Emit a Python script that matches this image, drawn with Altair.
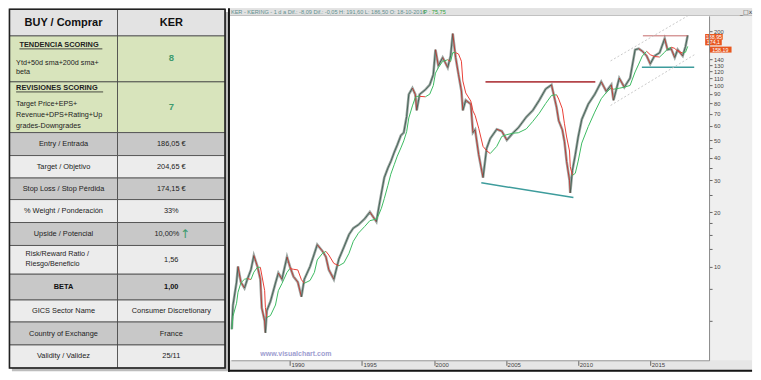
import altair as alt
import pandas as pd

# ---------------- table content ----------------
row_labels = ["BUY / Comprar", "TENDENCIA SCORING", "REVISIONES SCORING",
              "Entry / Entrada", "Target / Objetivo", "Stop Loss / Stop Pérdida",
              "% Weight / Ponderación", "Upside / Potencial",
              "Risk/Reward  Ratio /|Riesgo/Beneficio", "BETA", "GICS Sector Name",
              "Country of Exchange", "Validity / Validez"]
row_values = ["KER", "8", "7", "186,05 €", "204,65 €", "174,15 €", "33%", "10,00%",
              "1,56", "1,00", "Consumer Discretionary", "France", "25/11"]
score_notes = [["Ytd+50d sma+200d sma+", "beta"],
               ["Target Price+EPS+", "Revenue+DPS+Rating+Up", "grades-Downgrades"]]
upside_arrow = "↑"

# ---------------- price series ----------------
years = [1985.97, 1986.05, 1986.3, 1986.4, 1986.6, 1986.85, 1987.05, 1987.3, 1987.5, 1987.75,
         1987.95, 1988.05, 1988.25, 1988.3, 1988.4, 1988.65, 1989.0, 1989.2, 1989.45, 1989.8,
         1990.0, 1990.25, 1990.55, 1990.8, 1991.0, 1991.4, 1991.7, 1991.9, 1992.25, 1992.5,
         1992.7, 1993.05, 1993.4, 1993.75, 1994.1, 1994.4, 1994.75, 1995.2, 1995.55, 1996.0,
         1996.15, 1996.35, 1996.55, 1996.8, 1997.0, 1997.25, 1997.45, 1997.7, 1997.9, 1998.1,
         1998.25, 1998.5, 1998.7, 1998.8, 1999.0, 1999.4, 1999.7, 1999.95, 2000.1, 2000.3,
         2000.6, 2000.95, 2001.15, 2001.3, 2001.5, 2001.7, 2001.9, 2002.0, 2002.2, 2002.55,
         2002.7, 2002.85, 2003.1, 2003.4, 2003.65, 2003.9, 2004.35, 2004.7, 2005.05, 2005.5,
         2005.85, 2006.4, 2006.85, 2007.3, 2007.75, 2008.15, 2008.5, 2008.65, 2008.9, 2009.05,
         2009.2, 2009.4, 2009.45, 2009.6, 2009.8, 2010.0, 2010.25, 2010.7, 2011.15, 2011.6,
         2011.95, 2012.3, 2012.45, 2012.85, 2013.2, 2013.6, 2013.95, 2014.2, 2014.45, 2014.75,
         2015.0, 2015.3, 2015.65, 2016.0, 2016.2, 2016.45, 2016.7, 2016.9, 2017.25, 2017.45,
         2017.6]
prices = [4.5, 6.1, 8.2, 10.0, 8.2, 7.6, 8.5, 9.6, 11.5, 10.0,
          8.5, 5.9, 5.0, 4.3, 5.7, 6.4, 8.1, 9.2, 8.5, 11.3,
          10.0, 8.8, 8.2, 6.8, 8.5, 10.0, 11.8, 13.2, 12.2, 11.3,
          9.6, 8.5, 11.0, 12.8, 15.0, 16.3, 17.0, 18.4, 20.0, 17.7,
          20.8, 25.5, 31.0, 35.0, 38.0, 43.0, 47.0, 53.0, 55.0, 67.5,
          89.5, 97.0, 89.5, 73.0, 89.5, 95.0, 101.0, 115.0, 158.0, 129.0,
          143.0, 126.0, 146.0, 194.0, 143.0, 115.0, 93.5, 73.0, 83.0, 79.0,
          55.0, 57.0, 41.5, 31.0, 45.0, 51.0, 57.4, 56.0, 50.0, 55.0,
          58.5, 67.0, 73.0, 83.0, 96.0, 101.0, 76.0, 64.0, 57.0, 49.0,
          38.0, 30.0, 25.5, 34.0, 41.5, 52.0, 65.0, 79.0, 89.5, 105.0,
          93.0, 101.0, 83.0, 110.0, 98.0, 110.0, 158.0, 160.0, 155.0, 146.0,
          132.0, 146.0, 152.0, 182.0, 158.0, 160.0, 143.0, 158.0, 146.0, 165.0,
          190.0]

# ---------------- drawn trend lines ----------------
seg_kind = ["resistance", "support", "range_top", "range_bottom", "channel", "channel"]
seg_x1 = [2003.57, 2003.28, 2014.49, 2014.42, 2012.25, 2012.25]
seg_y1 = [105.0, 29.0, 188.5, 126.5, 137.0, 77.7]
seg_x2 = [2011.19, 2009.67, 2017.6, 2018.05, 2017.6, 2018.15]
seg_y2 = [105.0, 24.1, 188.5, 126.5, 243.0, 149.6]

tag_values = [173.5, 186.0, 158.19]
tag_labels = ["174,1", "188,95", "158,19"]

header_text = "KER - KERING - 1 d a  Dif.: -8,09  Dif.: -0,05  H: 191,60  L: 186,50  O: 18-10-2016"
header_price = "P : 75,75"
watermark = "www.visualchart.com"
window_icons = "_□x"
year_ticks = [1990, 1995, 2000, 2005, 2010, 2015]
price_ticks = [10, 20, 30, 40, 50, 60, 70, 80, 90, 100, 110, 120, 130, 140, 200]
price_minor = [5, 7.5, 12.5, 15, 17.5, 25, 35, 45]

# ---------------- layout (reference pixel units) ----------------
W, H = 745, 364
SX, SY = W / 761, H / 380
PLOT_W, PLOT_H = 717 * SX, 368 * SY
FONT = "Liberation Sans"

row_h = [28, 48, 53, 24, 23.5, 22.5, 24, 24, 30, 27, 23, 24, 24]
row_fill = ["#e3e3e3", "#d8e4bc", "#d8e4bc", "#c8c8c8", "#ececec", "#c8c8c8", "#ececec",
            "#c8c8c8", "#ececec", "#c8c8c8", "#ececec", "#c8c8c8", "#ececec"]
col_x = [1.5, 112, 222]
title_pos = [(11.7, 9), (8.3, 6)]
note_dy = [[28.7, 38], [23, 34.5, 46]]
score_dy = [22.7, 26]
underline = [(11.7, 96.5, 42.5), (8.3, 97.3, 87.5)]

frame_boxes = [
    (4, 4, 225, 379.5, "#bdbdbd"),
    (225, 0, 761, 380, "#e6e6e6"),
    (227, 8, 717, 368, "#ffffff"),
    (717, 8, 761, 368, "#efefef"),
    (227, 0, 761, 7.4, "#e2e2e2"),
    (227, 7.4, 761, 8, "#b5b5b5"),
    (225, 0, 227, 380, "#151515"),
    (225, 378, 761, 380, "#151515"),
]

TX = alt.Scale(domain=[0, 761], range=[0, W], nice=False, zero=False)
TY = alt.Scale(domain=[0, 380], range=[0, H], nice=False, zero=False)
PX = alt.Scale(domain=[1985.91, 2019.08], range=[228 * SX, 717 * SX], nice=False, zero=False)
PY = alt.Scale(type="log", domain=[3.03, 243], range=[368 * SY, 8 * SY], nice=False)

# ---------------- frame ----------------
frame_df = pd.DataFrame(frame_boxes, columns=["x", "y", "x2", "y2", "fill"])
frame = alt.Chart(frame_df).mark_rect().encode(
    x=alt.X("x:Q", scale=TX, axis=None), x2="x2:Q",
    y=alt.Y("y:Q", scale=TY, axis=None), y2="y2:Q",
    fill=alt.Fill("fill:N", scale=None))

# ---------------- price chart ----------------
price_df = pd.DataFrame({"year": years, "price": prices})
xaxis = alt.Axis(values=year_ticks, format="d", tickSize=5, tickColor="#666", domainColor="#9a9a9a",
                 labelFontSize=6, labelFont=FONT, labelColor="#444", labelAlign="left",
                 labelBaseline="top", labelPadding=-4, labelOffset=1, grid=False, zindex=1,
                 title=None, labelFlush=False, labelOverlap=False)
yaxis = alt.Axis(orient="right", values=price_ticks + price_minor, format="d",
                 labelExpr="datum.value >= 10 && datum.value % 10 == 0 ? datum.label : ''",
                 tickSize=3, tickColor="#666", domainColor="#8a8a8a", labelFontSize=5.8,
                 labelFont=FONT, labelColor="#444", labelPadding=1.5, grid=False, zindex=1,
                 title=None, labelFlush=False, labelOverlap=False)

price_band = alt.Chart(price_df).mark_line(color="#9ca6a2", strokeWidth=2.6).encode(
    x=alt.X("year:Q", scale=PX, axis=xaxis),
    y=alt.Y("price:Q", scale=PY, axis=yaxis))

# thin candle-coloured core: red on falling legs, dark green on rising legs
price_core = alt.Chart(price_df).transform_window(
    prev_year="lag(year)", prev_price="lag(price)", sort=[alt.SortField("year")]
).transform_filter("datum.prev_year != null").transform_calculate(
    dir="datum.price >= datum.prev_price ? 'up' : 'down'"
).mark_rule(strokeWidth=0.9).encode(
    x=alt.X("prev_year:Q", scale=PX, axis=None), x2="year:Q",
    y=alt.Y("prev_price:Q", scale=PY, axis=None), y2="price:Q",
    color=alt.Color("dir:N", scale=alt.Scale(domain=["up", "down"], range=["#3d5d50", "#c0302a"]),
                    legend=None))

ma = alt.Chart(price_df).transform_window(
    ma="mean(price)", frame=[-3, 0], sort=[alt.SortField("year")]
).transform_window(
    prev_year="lag(year)", prev_ma="lag(ma)", sort=[alt.SortField("year")]
).transform_filter("datum.prev_year != null").transform_calculate(
    dir="datum.ma >= datum.prev_ma ? 'up' : 'down'"
).mark_rule(strokeWidth=1).encode(
    x=alt.X("prev_year:Q", scale=PX, axis=None), x2="year:Q",
    y=alt.Y("prev_ma:Q", scale=PY, axis=None), y2="ma:Q",
    color=alt.Color("dir:N", scale=alt.Scale(domain=["up", "down"], range=["#3dbb62", "#ea3f36"]),
                    legend=None))

seg_df = pd.DataFrame({"kind": seg_kind, "x1": seg_x1, "y1": seg_y1, "x2": seg_x2, "y2": seg_y2})
seg_style = {"resistance": dict(color="#b4454a", strokeWidth=1.8),
             "support": dict(color="#3d9c9c", strokeWidth=1.5),
             "range_top": dict(color="#c46a6a", strokeWidth=1.0),
             "range_bottom": dict(color="#3d9c9c", strokeWidth=1.5),
             "channel": dict(color="#c4c4c4", strokeWidth=0.9, strokeDash=[2, 2])}
seg_layers = []
for k, st in seg_style.items():
    seg_layers.append(alt.Chart(seg_df).transform_filter(alt.datum.kind == k).mark_rule(**st).encode(
        x=alt.X("x1:Q", scale=PX, axis=None), x2="x2:Q",
        y=alt.Y("y1:Q", scale=PY, axis=None), y2="y2:Q"))

# price tags on the right strip
tag_df = pd.DataFrame({"value": tag_values, "label": tag_labels,
                       "cx": [721.5 * SX, 722 * SX, 728.5 * SX], "w": [17 * SX, 18 * SX, 23 * SX]})
tag_box = alt.Chart(tag_df).mark_tick(color="#e8571f", thickness=6, opacity=1, orient="horizontal").encode(
    x=alt.X("cx:Q", scale=None), y=alt.Y("value:Q", scale=PY, axis=None),
    size=alt.Size("w:Q", scale=None))
tag_txt = alt.Chart(tag_df).mark_text(color="white", fontSize=5.3, font=FONT, baseline="middle").encode(
    x=alt.X("cx:Q", scale=None), y=alt.Y("value:Q", scale=PY, axis=None), text="label:N")

# ---------------- top bar texts & watermark ----------------
top_df = pd.DataFrame({"x": [228, 425], "y": [4, 4], "text": [header_text, header_price],
                       "c": ["#5f8f8f", "#2fa33a"]})
top_txt = alt.Chart(top_df).mark_text(fontSize=5.6, font=FONT, align="left", baseline="middle").encode(
    x=alt.X("x:Q", scale=TX, axis=None), y=alt.Y("y:Q", scale=TY, axis=None), text="text:N",
    color=alt.Color("c:N", scale=None))
icons = alt.Chart(pd.DataFrame({"x": [755], "y": [4], "text": [window_icons]})).mark_text(
    fontSize=6, font="DejaVu Sans", color="#444", baseline="middle").encode(
    x=alt.X("x:Q", scale=TX, axis=None), y=alt.Y("y:Q", scale=TY, axis=None), text="text:N")
wm = alt.Chart(pd.DataFrame({"x": [258], "y": [361], "text": [watermark]})).mark_text(
    fontSize=7, font=FONT, fontWeight="bold", color="#9d9dd0", align="left", baseline="middle").encode(
    x=alt.X("x:Q", scale=TX, axis=None), y=alt.Y("y:Q", scale=TY, axis=None), text="text:N")

# ---------------- table ----------------
tops = [1]
for h in row_h:
    tops.append(tops[-1] + h)
cells, texts = [], []
lc, rc = (col_x[0] + col_x[1]) / 2, (col_x[1] + col_x[2]) / 2
for i, (lab, val) in enumerate(zip(row_labels, row_values)):
    top, bot = tops[i], tops[i + 1]
    mid = (top + bot) / 2
    for j in range(2):
        cells.append(dict(x=col_x[j], x2=col_x[j + 1], y=top, y2=bot, fill=row_fill[i]))
    if i == 0:
        texts += [dict(x=lc, y=mid, text=lab, s="header"), dict(x=rc, y=mid, text=val, s="header")]
    elif i in (1, 2):
        tx, tdy = title_pos[i - 1]
        texts.append(dict(x=tx, y=top + tdy, text=lab, s="title"))
        for line, dy in zip(score_notes[i - 1], note_dy[i - 1]):
            texts.append(dict(x=8.3, y=top + dy, text=line, s="note"))
        texts.append(dict(x=rc, y=top + score_dy[i - 1], text=val, s="score"))
    elif i == 7:
        texts += [dict(x=lc, y=mid, text=lab, s="cell"), dict(x=162.5, y=mid, text=val, s="cell"),
                  dict(x=181, y=mid - 0.5, text=upside_arrow, s="arrow")]
    elif i == 8:
        l1, l2 = lab.split("|")
        texts += [dict(x=18, y=top + 8.7, text=l1, s="note"), dict(x=18, y=top + 19.3, text=l2, s="note"),
                  dict(x=rc, y=mid, text=val, s="cell")]
    elif i == 9:
        texts += [dict(x=lc, y=mid, text=lab, s="cellbold"), dict(x=rc, y=mid, text=val, s="cellbold")]
    else:
        texts += [dict(x=lc, y=mid, text=lab, s="cell"), dict(x=rc, y=mid, text=val, s="cell")]

cells_df = pd.DataFrame(cells)
texts_df = pd.DataFrame(texts)
cell_layer = alt.Chart(cells_df).mark_rect(stroke="#454545", strokeWidth=0.8).encode(
    x=alt.X("x:Q", scale=TX, axis=None), x2="x2:Q",
    y=alt.Y("y:Q", scale=TY, axis=None), y2="y2:Q", fill=alt.Fill("fill:N", scale=None))
border = alt.Chart(pd.DataFrame({"x": [col_x[0]], "x2": [col_x[2]], "y": [tops[0]], "y2": [tops[-1]]})).mark_rect(
    fillOpacity=0, stroke="#222", strokeWidth=1.6).encode(
    x=alt.X("x:Q", scale=TX, axis=None), x2="x2:Q", y=alt.Y("y:Q", scale=TY, axis=None), y2="y2:Q")
ul_df = pd.DataFrame(underline, columns=["x", "x2", "y"])
ul_layer = alt.Chart(ul_df).mark_rule(color="#222", strokeWidth=0.8).encode(
    x=alt.X("x:Q", scale=TX, axis=None), x2="x2:Q", y=alt.Y("y:Q", scale=TY, axis=None))

text_styles = {
    "header": dict(fontSize=11, fontWeight="bold", align="center", color="#111"),
    "cell": dict(fontSize=7.4, align="center", color="#222"),
    "cellbold": dict(fontSize=7.4, fontWeight="bold", align="center", color="#111"),
    "title": dict(fontSize=7.4, fontWeight="bold", align="left", color="#222"),
    "note": dict(fontSize=7.2, align="left", color="#222"),
    "score": dict(fontSize=9.5, fontWeight="bold", align="center", color="#3f9b6e"),
    "arrow": dict(fontSize=12, align="center", color="#3f9b6e", font="DejaVu Sans"),
}
text_layers = []
for s, st in text_styles.items():
    st = dict(st)
    st.setdefault("font", FONT)
    text_layers.append(alt.Chart(texts_df).transform_filter(alt.datum.s == s).mark_text(
        baseline="middle", **st).encode(
        x=alt.X("x:Q", scale=TX, axis=None), y=alt.Y("y:Q", scale=TY, axis=None), text="text:N"))

chart = alt.layer(
    frame, price_band, price_core, ma, *seg_layers, tag_box, tag_txt, top_txt, icons, wm,
    cell_layer, border, ul_layer, *text_layers
).resolve_scale(x="independent", y="independent", color="independent", fill="independent",
                size="independent").properties(
    width=PLOT_W, height=PLOT_H, padding=0, background="white"
).configure_view(stroke=None)

chart.save("out.html", embed_options={"renderer": "svg", "actions": False})
